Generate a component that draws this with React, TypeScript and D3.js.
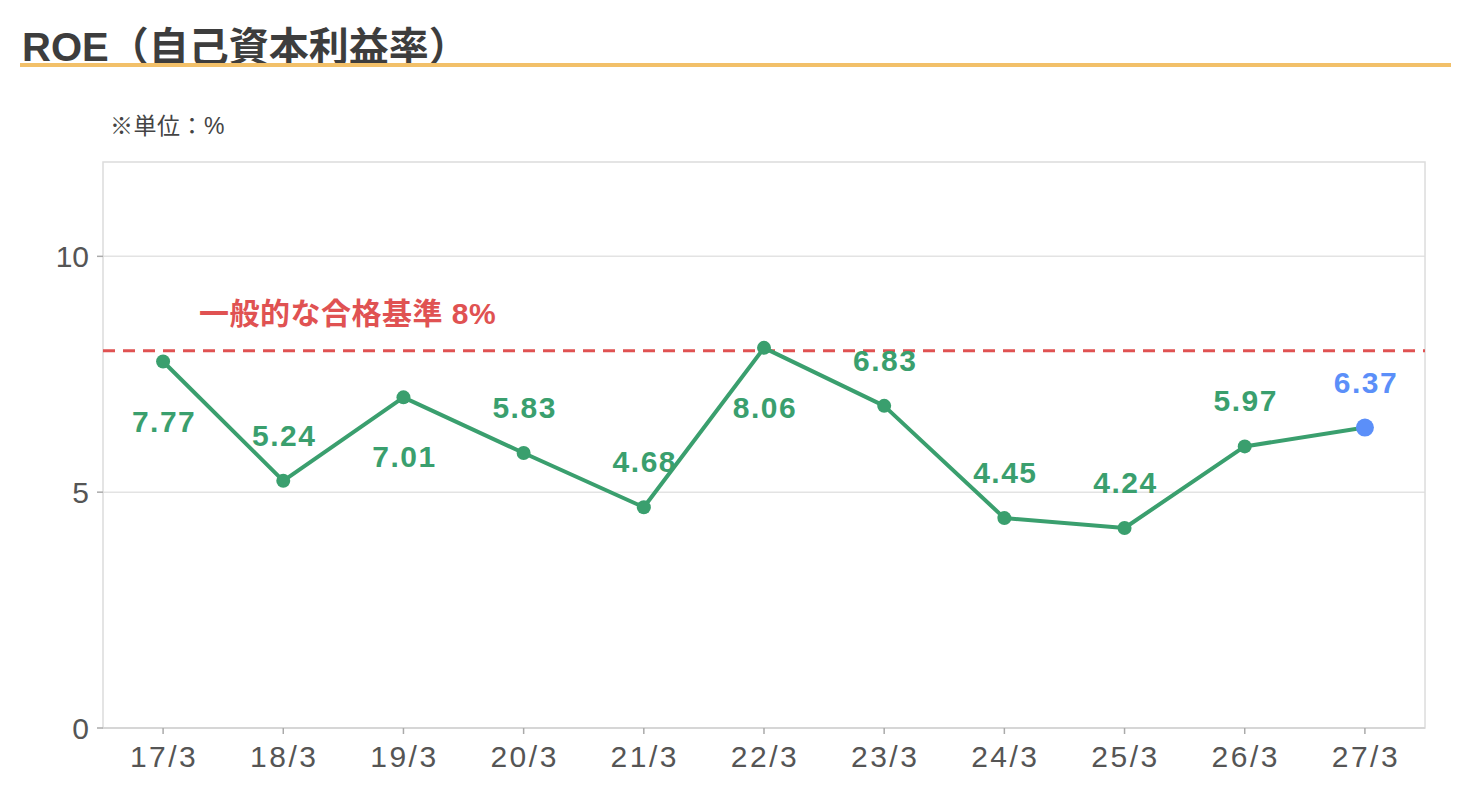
import React from "react";
import * as d3 from "d3";

const categories = ["17/3", "18/3", "19/3", "20/3", "21/3", "22/3", "23/3", "24/3", "25/3", "26/3", "27/3"];
const roeValues = [7.77, 5.24, 7.01, 5.83, 4.68, 8.06, 6.83, 4.45, 4.24, 5.97, 6.37];
const labelBelow = [true, false, true, false, false, true, false, false, false, false, false];
const yTicks = [0, 5, 10];
const thresholdValue = 8;
const thresholdLabel = "一般的な合格基準 8%";
const titleText = "ROE（自己資本利益率）";
const unitText = "※単位：%";

const W = 1470;
const H = 800;
const plot = { left: 103, right: 1425, top: 162, bottom: 728 };
const FONT = "'Liberation Sans', 'Noto Sans CJK JP', sans-serif";
const GREEN = "#3a9f6e";
const BLUE = "#5b8ff9";
const RED = "#e05252";

export default function App() {
  const x = d3.scaleBand<string>().domain(categories).range([plot.left, plot.right]).padding(0);
  const y = d3.scaleLinear().domain([0, 12]).range([plot.bottom, plot.top]);
  const cx = (c: string) => (x(c) as number) + x.bandwidth() / 2;
  const line = d3
    .line<number>()
    .x((_, i) => cx(categories[i]))
    .y((d) => y(d));
  const last = roeValues.length - 1;

  return (
    <svg width={W} height={H} style={{ display: "block", position: "absolute", left: 0, top: 0 }} fontFamily={FONT}>
      <rect width={W} height={H} fill="#fff" />
      <text x={22} y={61} fontSize={40} fontWeight={700} fill="#3d3d3d">
        {titleText}
      </text>
      <rect x={20} y={63} width={1431} height={4} fill="#f2c069" />
      <text x={110} y={134} fontSize={23} letterSpacing={0.5} fill="#444">
        {unitText}
      </text>

      {/* grid */}
      {yTicks.filter((t) => t > 0).map((t) => (
        <line key={t} x1={plot.left} x2={plot.right} y1={y(t)} y2={y(t)} stroke="#e3e3e3" strokeWidth={1.5} />
      ))}
      <rect
        x={plot.left}
        y={plot.top}
        width={plot.right - plot.left}
        height={plot.bottom - plot.top}
        fill="none"
        stroke="#dcdcdc"
        strokeWidth={1.5}
      />
      <line x1={plot.left} x2={plot.right} y1={plot.bottom} y2={plot.bottom} stroke="#d6d6d6" strokeWidth={2} />

      {/* y ticks */}
      {yTicks.map((t) => (
        <g key={t}>
          <line x1={plot.left - 6} x2={plot.left} y1={y(t)} y2={y(t)} stroke="#aaa" strokeWidth={1.5} />
          <text x={plot.left - 14} y={y(t)} dy="0.36em" textAnchor="end" fontSize={30} fill="#555">
            {t}
          </text>
        </g>
      ))}

      {/* x ticks */}
      {categories.map((c) => (
        <g key={c}>
          <line x1={cx(c)} x2={cx(c)} y1={plot.bottom} y2={plot.bottom + 6} stroke="#aaa" strokeWidth={1.5} />
          <text x={cx(c) + 1} y={plot.bottom + 39} textAnchor="middle" fontSize={30} letterSpacing={2.5} fill="#555">
            {c}
          </text>
        </g>
      ))}

      {/* threshold */}
      <line
        x1={plot.left}
        x2={plot.right}
        y1={y(thresholdValue)}
        y2={y(thresholdValue)}
        stroke={RED}
        strokeWidth={3}
        strokeDasharray="12 8"
      />
      <text x={199} y={324} fontSize={30} fontWeight={700} letterSpacing={0.5} fill={RED}>
        {thresholdLabel}
      </text>

      {/* line */}
      <path d={line(roeValues) || ""} fill="none" stroke={GREEN} strokeWidth={4} strokeLinejoin="round" />
      {roeValues.map((v, i) => (
        <circle
          key={i}
          cx={cx(categories[i])}
          cy={y(v)}
          r={i === last ? 9 : 7}
          fill={i === last ? BLUE : GREEN}
        />
      ))}
      {roeValues.map((v, i) => (
        <text
          key={"l" + i}
          x={cx(categories[i]) + 1}
          y={labelBelow[i] ? y(v) + 70 : y(v) - 35}
          textAnchor="middle"
          fontSize={30}
          fontWeight={700}
          letterSpacing={1.5}
          fill={i === last ? BLUE : GREEN}
        >
          {v.toFixed(2)}
        </text>
      ))}
    </svg>
  );
}
